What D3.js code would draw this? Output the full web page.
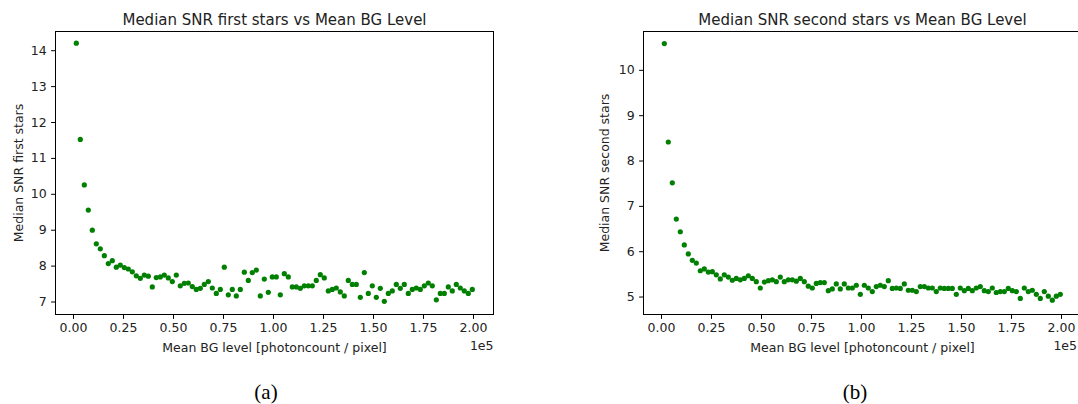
<!DOCTYPE html>
<html>
<head>
<meta charset="utf-8">
<script src="https://cdn.jsdelivr.net/npm/d3@7"></script>
<style>
  body { margin: 0; background: #fff; }
  svg { display: block; font-family: "DejaVu Sans", sans-serif; }
</style>
</head>
<body>
<svg id="chart" width="1078" height="404"></svg>
<script>
// Mean background level of each run (photoncount / pixel)
const bgLevel = [
  1400, 3400, 5400, 7400, 9400, 11400, 13400, 15400, 17400, 19400,
  21400, 23400, 25400, 27400, 29400, 31400, 33400, 35400, 37400, 39400,
  41400, 43400, 45400, 47400, 49400, 51400, 53400, 55400, 57400, 59400,
  61400, 63400, 65400, 67400, 69400, 71400, 73400, 75400, 77400, 79400,
  81400, 83400, 85400, 87400, 89400, 91400, 93400, 95400, 97400, 99400,
  101400, 103400, 105400, 107400, 109400, 111400, 113400, 115400, 117400, 119400,
  121400, 123400, 125400, 127400, 129400, 131400, 133400, 135400, 137400, 139400,
  141400, 143400, 145400, 147400, 149400, 151400, 153400, 155400, 157400, 159400,
  161400, 163400, 165400, 167400, 169400, 171400, 173400, 175400, 177400, 179400,
  181400, 183400, 185400, 187400, 189400, 191400, 193400, 195400, 197400, 199400
];

// Median SNR of the first stars, one value per bg level
const snrFirst = [
  14.21, 11.53, 10.26, 9.56, 9.00, 8.62, 8.48, 8.29, 8.07, 8.15,
  7.97, 8.03, 7.96, 7.92, 7.84, 7.73, 7.66, 7.75, 7.72, 7.42,
  7.68, 7.70, 7.75, 7.67, 7.57, 7.75, 7.45, 7.52, 7.53, 7.43,
  7.35, 7.38, 7.49, 7.57, 7.39, 7.24, 7.35, 7.97, 7.20, 7.35,
  7.17, 7.35, 7.83, 7.60, 7.82, 7.89, 7.17, 7.64, 7.27, 7.70,
  7.70, 7.20, 7.79, 7.70, 7.42, 7.42, 7.38, 7.45, 7.45, 7.45,
  7.60, 7.76, 7.67, 7.31, 7.35, 7.39, 7.28, 7.17, 7.60, 7.49,
  7.49, 7.13, 7.82, 7.24, 7.45, 7.13, 7.38, 7.02, 7.24, 7.31,
  7.49, 7.38, 7.49, 7.24, 7.35, 7.39, 7.35, 7.45, 7.53, 7.45,
  7.06, 7.24, 7.24, 7.42, 7.31, 7.49, 7.39, 7.31, 7.24, 7.35
];

// Median SNR of the second stars
const snrSecond = [
  10.59, 8.42, 7.52, 6.72, 6.44, 6.15, 5.95, 5.81, 5.75, 5.58,
  5.62, 5.55, 5.56, 5.49, 5.40, 5.49, 5.44, 5.37, 5.41, 5.38,
  5.41, 5.47, 5.41, 5.34, 5.20, 5.33, 5.36, 5.38, 5.34, 5.44,
  5.34, 5.38, 5.38, 5.35, 5.41, 5.34, 5.24, 5.20, 5.30, 5.32,
  5.32, 5.14, 5.18, 5.29, 5.18, 5.29, 5.20, 5.20, 5.26, 5.06,
  5.26, 5.20, 5.12, 5.23, 5.26, 5.23, 5.36, 5.19, 5.20, 5.19,
  5.29, 5.15, 5.15, 5.12, 5.23, 5.23, 5.20, 5.20, 5.12, 5.20,
  5.19, 5.19, 5.19, 5.06, 5.20, 5.14, 5.19, 5.14, 5.20, 5.23,
  5.14, 5.12, 5.20, 5.10, 5.12, 5.12, 5.19, 5.14, 5.12, 4.97,
  5.20, 5.12, 5.15, 5.06, 4.97, 5.12, 5.02, 4.93, 5.02, 5.06
];

const xTicks = [0, 25000, 50000, 75000, 100000, 125000, 150000, 175000, 200000];
const yTicksFirst = [7, 8, 9, 10, 11, 12, 13, 14];
const yTicksSecond = [5, 6, 7, 8, 9, 10];

const svg = d3.select("#chart");
const plotTop = 31.5, plotBottom = 314.5;
const tickLen = 4.4, tickPad = 4.4;

function drawPanel(cfg) {
  const x = d3.scaleLinear().domain([-9000, 210000]).range([cfg.left, cfg.right]);
  const y = d3.scaleLinear().domain(cfg.yDomain).range([plotBottom, plotTop]);
  const g = svg.append("g");

  // points
  g.selectAll("circle")
    .data(bgLevel.map((v, i) => [v, cfg.values[i]]))
    .enter()
    .append("circle")
    .attr("cx", d => x(d[0]))
    .attr("cy", d => y(d[1]))
    .attr("r", 2.6)
    .attr("fill", "#008000");

  // axes
  const xAxis = d3.axisBottom(x)
    .tickValues(xTicks)
    .tickFormat(d => (d / 1e5).toFixed(2))
    .tickSize(tickLen)
    .tickPadding(tickPad)
    .offset(0);
  const yAxis = d3.axisLeft(y)
    .tickValues(cfg.yTicks)
    .tickFormat(d3.format("d"))
    .tickSize(tickLen)
    .tickPadding(tickPad)
    .offset(0);

  const gx = g.append("g").attr("transform", `translate(0,${plotBottom})`).call(xAxis);
  const gy = g.append("g").attr("transform", `translate(${cfg.left},0)`).call(yAxis);
  [gx, gy].forEach(a => {
    a.select(".domain").remove();
    a.selectAll("line").attr("stroke", "#000").attr("stroke-width", 1);
    a.selectAll("text")
      .attr("fill", "#222")
      .style("font-size", "12.5px")
      .style("font-family", "DejaVu Sans");
  });

  // spines
  g.append("rect")
    .attr("x", cfg.left)
    .attr("y", plotTop)
    .attr("width", cfg.right - cfg.left)
    .attr("height", plotBottom - plotTop)
    .attr("fill", "none")
    .attr("stroke", "#000")
    .attr("stroke-width", 1);

  const mid = (cfg.left + cfg.right) / 2;

  g.append("text")
    .attr("x", mid)
    .attr("y", 24.5)
    .attr("text-anchor", "middle")
    .attr("fill", "#222")
    .style("font-size", "15px")
    .text(cfg.title);

  g.append("text")
    .attr("x", mid)
    .attr("y", 352)
    .attr("text-anchor", "middle")
    .attr("fill", "#222")
    .style("font-size", "12.5px")
    .text("Mean BG level [photoncount / pixel]");

  // offset text of the x axis (kept inside the page on the right panel)
  g.append("text")
    .attr("x", Math.min(cfg.right, 1077))
    .attr("y", 350)
    .attr("text-anchor", "end")
    .attr("fill", "#222")
    .style("font-size", "12.5px")
    .text("1e5");

  g.append("text")
    .attr("transform", `translate(${cfg.labelX},${(plotTop + plotBottom) / 2}) rotate(-90)`)
    .attr("text-anchor", "middle")
    .attr("fill", "#222")
    .style("font-size", "12.5px")
    .text(cfg.ylabel);

  g.append("text")
    .attr("x", cfg.capX)
    .attr("y", 399)
    .attr("text-anchor", "middle")
    .attr("fill", "#000")
    .style("font-family", "Liberation Serif, DejaVu Serif, serif")
    .style("font-size", "21px")
    .text(cfg.caption);
}

drawPanel({
  left: 55.5, right: 493.5,
  yDomain: [6.652, 14.535],
  yTicks: yTicksFirst,
  values: snrFirst,
  title: "Median SNR first stars vs Mean BG Level",
  ylabel: "Median SNR first stars",
  labelX: 22.5,
  caption: "(a)",
  capX: 266
});

drawPanel({
  left: 643.5, right: 1081.5,
  yDomain: [4.615, 10.857],
  yTicks: yTicksSecond,
  values: snrSecond,
  title: "Median SNR second stars vs Mean BG Level",
  ylabel: "Median SNR second stars",
  labelX: 609,
  caption: "(b)",
  capX: 855
});
</script>
</body>
</html>
